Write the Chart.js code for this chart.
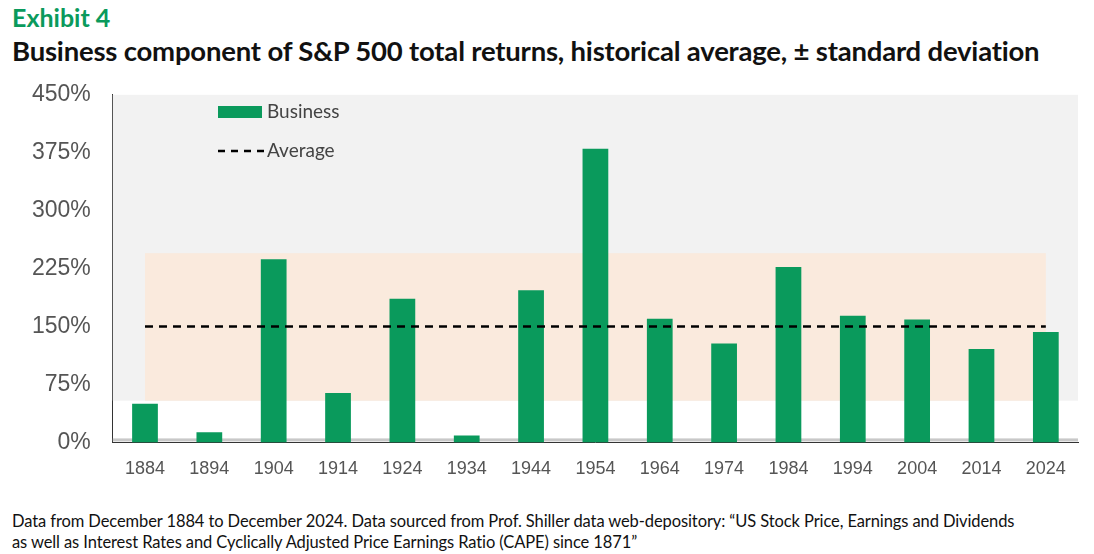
<!DOCTYPE html>
<html>
<head>
<meta charset="utf-8">
<script src="https://cdn.jsdelivr.net/npm/chart.js@4"></script>
<style>
  body { margin: 0; background: #fff; font-family: Lato, "DejaVu Sans", sans-serif; }
  #wrap { position: relative; width: 1094px; height: 554px; }
  .ex { position: absolute; left: 12px; top: 2px; font-size: 25px; font-weight: bold; color: #0a9a5c; }
  .ttl { position: absolute; left: 12px; top: 34px; font-size: 27.5px; font-weight: bold; color: #111; letter-spacing: -0.2px; }
  .note { position: absolute; left: 12px; top: 511px; font-size: 16.5px; color: #111; line-height: 21px; letter-spacing: -0.1px; }
  #box { position: absolute; left: 0; top: 67px; width: 1094px; height: 421px; }
</style>
</head>
<body>
<div id="wrap">
  <div class="ex">Exhibit 4</div>
  <div class="ttl">Business component of S&amp;P 500 total returns, historical average, ± standard deviation</div>
  <div id="box"><canvas id="c"></canvas></div>
  <div class="note">Data from December 1884 to December 2024. Data sourced from Prof. Shiller data web-depository: “US Stock Price, Earnings and Dividends<br>as well as Interest Rates and Cyclically Adjusted Price Earnings Ratio (CAPE) since 1871”</div>
</div>
<script>
var years = ['1884','1894','1904','1914','1924','1934','1944','1954','1964','1974','1984','1994','2004','2014','2024'];
var business = [50, 13, 237, 64, 186, 9, 197, 380, 160, 128, 227, 164, 159, 121, 143];
var average = 150;
var bandLow = 54;
var bandHigh = 245;

// background, std-dev band and legend
var decor = {
  id: 'decor',
  beforeDatasetsDraw: function (chart) {
    var ctx = chart.ctx, a = chart.chartArea, x = chart.scales.x, y = chart.scales.y;
    ctx.save();
    ctx.fillStyle = '#f2f2f2';
    ctx.fillRect(a.left, a.top, a.right - a.left, y.getPixelForValue(bandLow) - a.top);
    ctx.fillStyle = '#faeadd';
    var x0 = x.getPixelForValue(0), x1 = x.getPixelForValue(years.length - 1);
    ctx.fillRect(x0, y.getPixelForValue(bandHigh), x1 - x0, y.getPixelForValue(bandLow) - y.getPixelForValue(bandHigh));
    ctx.fillStyle = '#c8c8c8';
    ctx.fillRect(a.left, a.bottom - 4, a.right - a.left, 3);
    ctx.restore();
  },
  afterDraw: function (chart) {
    var ctx = chart.ctx;
    ctx.save();
    ctx.fillStyle = '#0a9a5c';
    ctx.fillRect(218, 39, 44, 12);
    ctx.strokeStyle = '#000';
    ctx.lineWidth = 2.5;
    ctx.setLineDash([7, 6]);
    ctx.beginPath(); ctx.moveTo(218, 84); ctx.lineTo(264, 84); ctx.stroke();
    ctx.fillStyle = '#444';
    ctx.font = '19px Lato, sans-serif';
    ctx.textBaseline = 'middle';
    ctx.fillText('Business', 267, 45);
    ctx.fillText('Average', 267, 84);
    ctx.restore();
  }
};

new Chart(document.getElementById('c'), {
  type: 'bar',
  data: {
    labels: years,
    datasets: [
      { type: 'line', label: 'Average', data: years.map(function () { return average; }),
        borderColor: '#000', borderWidth: 2.5, borderDash: [8, 6], pointRadius: 0, fill: false, order: 0 },
      { label: 'Business', data: business, backgroundColor: '#0a9a5c',
        categoryPercentage: 1, barPercentage: 0.4, order: 1 }
    ]
  },
  options: {
    responsive: true, maintainAspectRatio: false, animation: false,
    layout: { padding: { left: 18, right: 16, top: 12, bottom: 0 } },
    plugins: { legend: { display: false }, tooltip: { enabled: false } },
    scales: {
      x: { grid: { display: false }, border: { color: '#333' },
        ticks: { color: '#555', font: { size: 18 }, padding: 8 } },
      y: { min: 0, max: 450, grid: { display: false }, border: { color: '#333' },
        ticks: { stepSize: 75, color: '#555', font: { size: 23 }, padding: 14,
          callback: function (v) { return v + '%'; } } }
    }
  },
  plugins: [decor]
});
</script>
</body>
</html>
